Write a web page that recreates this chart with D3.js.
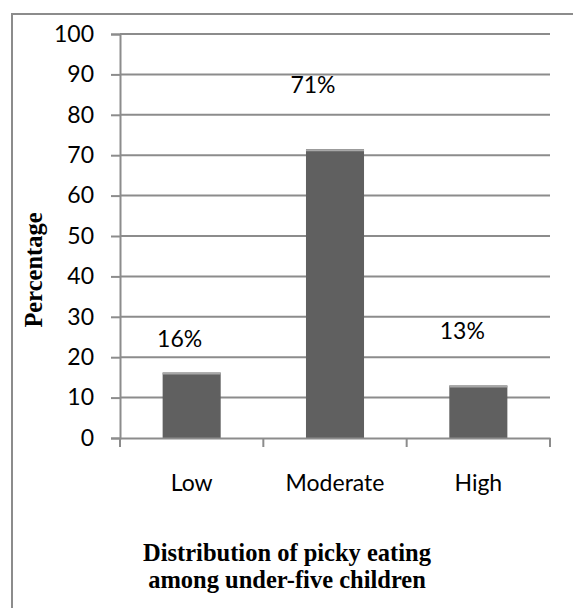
<!DOCTYPE html>
<html>
<head>
<meta charset="utf-8">
<script src="https://cdn.jsdelivr.net/npm/d3@7"></script>
<style>
  body { margin: 0; background: #fff; overflow: hidden; }
  svg { display: block; }
  svg text { fill: #000; }
</style>
</head>
<body>
<div id="chart"></div>
<script>
// Data
const categories = ["Low", "Moderate", "High"];
const values = [16.2, 71.5, 13];
const valueLabels = ["16%", "71%", "13%"];
const yTicks = [0, 10, 20, 30, 40, 50, 60, 70, 80, 90, 100];

// Label nudges (pixels), as placed by hand in the original
const labelDx = [-12, -22, -16];
const labelDy = [-26, -56, -46];

const W = 573, H = 608;
const margin = { top: 34, left: 120, right: 23 };
const plotW = W - margin.left - margin.right;
const plotH = 404;

const svg = d3.select("#chart").append("svg")
  .attr("width", W)
  .attr("height", H);

// outer frame
svg.append("path")
  .attr("d", `M12,${H + 5}V14H${W + 5}`)
  .attr("fill", "none")
  .attr("stroke", "#8c8c8c")
  .attr("stroke-width", 2);

const g = svg.append("g")
  .attr("transform", `translate(${margin.left},${margin.top})`);

const x = d3.scaleBand()
  .domain(categories)
  .range([0, plotW])
  .paddingInner(0.595)
  .paddingOuter(0.2975);

const y = d3.scaleLinear()
  .domain([0, 100])
  .range([plotH, 0]);

// gridlines
g.append("g")
  .selectAll("line")
  .data(yTicks.filter(d => d > 0))
  .join("line")
  .attr("x1", 0)
  .attr("x2", plotW)
  .attr("y1", d => y(d))
  .attr("y2", d => y(d))
  .attr("stroke", "#8c8c8c")
  .attr("stroke-width", 2);

// Y axis
const yAxis = g.append("g")
  .call(d3.axisLeft(y).tickValues(yTicks).tickSize(9).tickPadding(17));
yAxis.select(".domain").attr("stroke", "#8c8c8c").attr("stroke-width", 2);
yAxis.selectAll(".tick line").attr("stroke", "#8c8c8c").attr("stroke-width", 2);
yAxis.selectAll(".tick text")
  .attr("font-family", "Lato, sans-serif")
  .attr("font-size", 23);

// bars
const bars = g.append("g")
  .selectAll("g")
  .data(values)
  .join("g");

bars.append("rect")
  .attr("x", (d, i) => x(categories[i]))
  .attr("y", d => y(d))
  .attr("width", x.bandwidth())
  .attr("height", d => y(0) - y(d))
  .attr("fill", "#606060");

// faint light edge on the top of each bar
bars.append("line")
  .attr("x1", (d, i) => x(categories[i]))
  .attr("x2", (d, i) => x(categories[i]) + x.bandwidth())
  .attr("y1", d => y(d) + 1)
  .attr("y2", d => y(d) + 1)
  .attr("stroke", "#a8a8a8")
  .attr("stroke-width", 2);

// X axis
const xAxis = g.append("g")
  .attr("transform", `translate(0,${plotH})`)
  .call(d3.axisBottom(x).tickSize(0).tickPadding(37));
xAxis.select(".domain").attr("stroke", "#8c8c8c").attr("stroke-width", 2);
xAxis.selectAll(".tick text")
  .attr("font-family", "Lato, sans-serif")
  .attr("font-size", 23);

// category boundary ticks
const step = x.step();
g.append("g")
  .selectAll("line")
  .data(d3.range(categories.length + 1))
  .join("line")
  .attr("x1", i => i * step)
  .attr("x2", i => i * step)
  .attr("y1", plotH)
  .attr("y2", plotH + 9)
  .attr("stroke", "#8c8c8c")
  .attr("stroke-width", 2);

// value labels
g.append("g")
  .selectAll("text")
  .data(values)
  .join("text")
  .attr("x", (d, i) => x(categories[i]) + x.bandwidth() / 2 + labelDx[i])
  .attr("y", (d, i) => y(d) + labelDy[i])
  .attr("text-anchor", "middle")
  .attr("font-family", "Lato, sans-serif")
  .attr("font-size", 23)
  .text((d, i) => valueLabels[i]);

// y title
svg.append("text")
  .attr("transform", "translate(42,270) rotate(-90)")
  .attr("text-anchor", "middle")
  .attr("font-family", "'Liberation Serif', 'Times New Roman', serif")
  .attr("font-weight", "bold")
  .attr("font-size", 24.5)
  .text("Percentage");

// bottom title
const title = svg.append("text")
  .attr("text-anchor", "middle")
  .attr("font-family", "'Liberation Serif', 'Times New Roman', serif")
  .attr("font-weight", "bold")
  .attr("font-size", 24.5);
title.append("tspan").attr("x", 287).attr("y", 561).text("Distribution of picky eating");
title.append("tspan").attr("x", 287).attr("y", 588).text("among under-five children");
</script>
</body>
</html>
